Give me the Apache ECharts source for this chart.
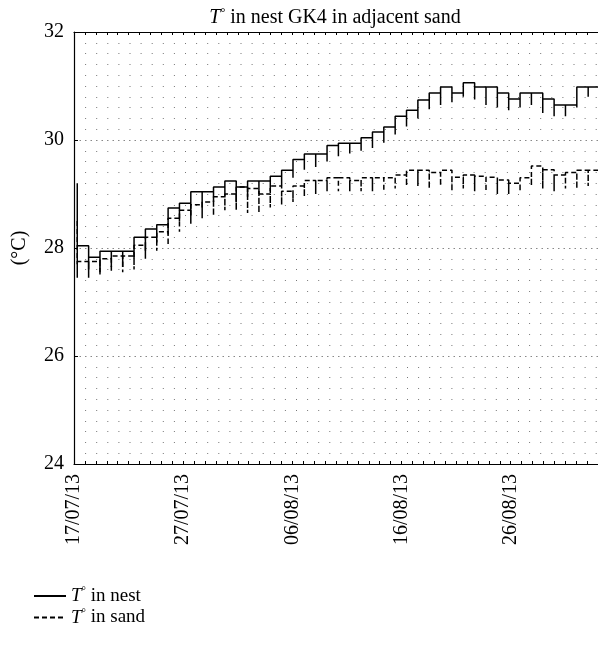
<!DOCTYPE html>
<html>
<head>
<meta charset="utf-8">
<script src="https://cdn.jsdelivr.net/npm/echarts@6/dist/echarts.min.js"></script>
<style>
  html, body { margin: 0; padding: 0; background: #fff; }
  #chart { width: 598px; height: 651px; }
</style>
</head>
<body>
<div id="chart"></div>
<script>
// ---- data ----
// breakpoints of the stepped records, in days after 17/07/13
const stepDays = [0.30, 1.34, 2.38, 3.42, 4.46, 5.50, 6.54, 7.58, 8.62, 9.66,
  10.70, 11.74, 12.78, 13.82, 14.86, 15.90, 16.94, 17.98, 19.02, 20.06,
  21.10, 22.14, 23.18, 24.22, 25.26, 26.30, 27.34, 28.38, 29.42, 30.46,
  31.50, 32.54, 33.58, 34.62, 35.66, 36.70, 37.74, 38.78, 39.82, 40.86,
  41.90, 42.94, 43.98, 45.02, 46.06, 47.10, 48.14];

const nestStart = [29.2, 27.7];
const nestValues = [28.04, 27.83, 27.94, 27.94, 27.94, 28.20, 28.35, 28.43, 28.74, 28.83,
  29.04, 29.04, 29.13, 29.24, 29.13, 29.24, 29.24, 29.33, 29.44, 29.64,
  29.74, 29.74, 29.90, 29.94, 29.94, 30.04, 30.15, 30.24, 30.44, 30.55,
  30.74, 30.87, 30.98, 30.87, 31.06, 30.98, 30.98, 30.87, 30.76, 30.87,
  30.87, 30.76, 30.65, 30.65, 30.98, 30.98];
const nestDips = [27.60, 27.55, 27.65, 27.65, 27.80, 27.95, 28.10, 28.25, 28.50, 28.60,
  28.75, 28.85, 28.95, 28.85, 28.95, 29.00, 29.05, 29.15, 29.30, 29.45,
  29.50, 29.60, 29.70, 29.75, 29.80, 29.85, 29.95, 30.10, 30.25, 30.40,
  30.57, 30.65, 30.70, 30.80, 30.75, 30.65, 30.60, 30.55, 30.60, 30.65,
  30.50, 30.44, 30.44, 30.60, 30.80];

const sandStart = [28.5, 27.45];
const sandValues = [27.75, 27.75, 27.80, 27.85, 27.85, 28.05, 28.20, 28.30, 28.55, 28.70,
  28.80, 28.85, 28.95, 29.00, 29.13, 29.10, 29.00, 29.15, 29.05, 29.15,
  29.25, 29.25, 29.30, 29.30, 29.25, 29.30, 29.30, 29.30, 29.35, 29.44,
  29.44, 29.40, 29.44, 29.31, 29.35, 29.33, 29.31, 29.26, 29.20, 29.30,
  29.52, 29.45, 29.35, 29.40, 29.44, 29.44];
const sandDips = [27.45, 27.50, 27.55, 27.55, 27.60, 27.80, 27.95, 28.05, 28.30, 28.45,
  28.55, 28.60, 28.70, 28.70, 28.65, 28.65, 28.75, 28.80, 28.85, 28.95,
  29.00, 29.05, 29.05, 29.05, 29.05, 29.05, 29.05, 29.10, 29.15, 29.15,
  29.10, 29.15, 29.05, 29.10, 29.05, 29.05, 29.00, 29.00, 29.05, 29.15,
  29.10, 29.05, 29.10, 29.10, 29.15];

const tickLabels = ['17/07/13', '27/07/13', '06/08/13', '16/08/13', '26/08/13'];
const yTicks = [24, 26, 28, 30, 32];

const seriesNames = ['T° in nest', 'T° in sand'];

// ---- build the stepped paths from the arrays ----
function buildPath(start, values, dips) {
  const pts = [[stepDays[0], start[0]], [stepDays[0], start[1]], [stepDays[0], values[0]]];
  for (let k = 0; k < values.length - 1; k++) {
    const t = stepDays[k + 1];
    pts.push([t, values[k]], [t, dips[k]], [t, values[k + 1]]);
  }
  pts.push([stepDays[values.length], values[values.length - 1]]);
  return pts;
}

const serif = '"Liberation Serif", "DejaVu Serif", serif';
const richT = {
  it: { fontFamily: serif, fontStyle: 'italic', fontWeight: 'normal', fontSize: 20, color: '#000', lineHeight: 22 },
  sup: { fontFamily: serif, fontWeight: 'normal', fontSize: 12, color: '#000', verticalAlign: 'top', lineHeight: 22, padding: [0, 0, 8, 0] },
  n: { fontFamily: serif, fontWeight: 'normal', fontSize: 20, color: '#000', lineHeight: 22 }
};
const richL = {
  it: { fontFamily: serif, fontStyle: 'italic', fontSize: 19, color: '#000', lineHeight: 20 },
  sup: { fontFamily: serif, fontSize: 11, color: '#000', verticalAlign: 'top', lineHeight: 20, padding: [0, 0, 7, 0] },
  n: { fontFamily: serif, fontSize: 19, color: '#000', lineHeight: 20 }
};

const chart = echarts.init(document.getElementById('chart'), null, { renderer: 'canvas' });

const xCommon = {
  type: 'value',
  min: 0,
  max: 48,
  interval: 1,
  axisLine: { show: true, onZero: false, lineStyle: { color: '#000', width: 1.2 } },
  axisTick: { show: true, inside: true, length: 3, lineStyle: { color: '#000', width: 1 } },
  splitLine: { show: false }
};

chart.setOption({
  animation: false,
  backgroundColor: '#fff',
  title: {
    text: '{it|T}{sup|°}{n| in nest GK4 in adjacent sand}',
    left: 330,
    top: 2,
    textAlign: 'center',
    textStyle: { fontWeight: 'normal', rich: richT }
  },
  legend: {
    orient: 'vertical',
    left: 28,
    top: 581,
    itemWidth: 32,
    itemHeight: 12,
    itemGap: 2,
    data: seriesNames,
    itemStyle: { opacity: 0 },
    formatter: function (name) {
      return '{it|T}{sup|°}{n|' + name.slice(2) + '}';
    },
    textStyle: { rich: richL }
  },
  grid: {
    left: 74,
    top: 32,
    width: 533,
    height: 432,
    containLabel: false
  },
  xAxis: [
    Object.assign({}, xCommon, {
      position: 'bottom',
      axisLabel: {
        show: true,
        rotate: 90,
        margin: 10,
        fontFamily: serif,
        fontSize: 20,
        color: '#000',
        formatter: function (v) {
          return (v % 10 === 0 && tickLabels[v / 10]) ? tickLabels[v / 10] : '';
        }
      }
    }),
    Object.assign({}, xCommon, {
      position: 'top',
      axisLabel: { show: false }
    })
  ],
  yAxis: {
    type: 'value',
    min: yTicks[0],
    max: yTicks[yTicks.length - 1],
    interval: 2,
    name: '(°C)',
    nameLocation: 'middle',
    nameRotate: 90,
    nameGap: 44,
    nameTextStyle: { fontFamily: serif, fontSize: 20, color: '#000' },
    axisLine: { show: true, lineStyle: { color: '#000', width: 1.2 } },
    axisTick: { show: true, inside: true, length: 4, lineStyle: { color: '#000' } },
    axisLabel: { fontFamily: serif, fontSize: 20, color: '#000', margin: 10 },
    splitLine: { show: true, lineStyle: { color: '#888', width: 1, type: [1.5, 4] } },
    minorTick: { show: false, splitNumber: 10 },
    minorSplitLine: { show: true, lineStyle: { color: '#777', width: 1, type: [1, 10.1] } }
  },
  series: [
    {
      name: seriesNames[0],
      type: 'line',
      xAxisIndex: 0,
      data: buildPath(nestStart, nestValues, nestDips),
      showSymbol: false,
      symbol: 'none',
      clip: true,
      lineStyle: { color: '#000', width: 1.5, type: 'solid' },
      itemStyle: { color: '#000' },
      z: 3
    },
    {
      name: seriesNames[1],
      type: 'line',
      xAxisIndex: 0,
      data: buildPath(sandStart, sandValues, sandDips),
      showSymbol: false,
      symbol: 'none',
      clip: true,
      lineStyle: { color: '#000', width: 1.5, type: [5, 3] },
      itemStyle: { color: '#000' },
      z: 2
    }
  ]
});
</script>
</body>
</html>
